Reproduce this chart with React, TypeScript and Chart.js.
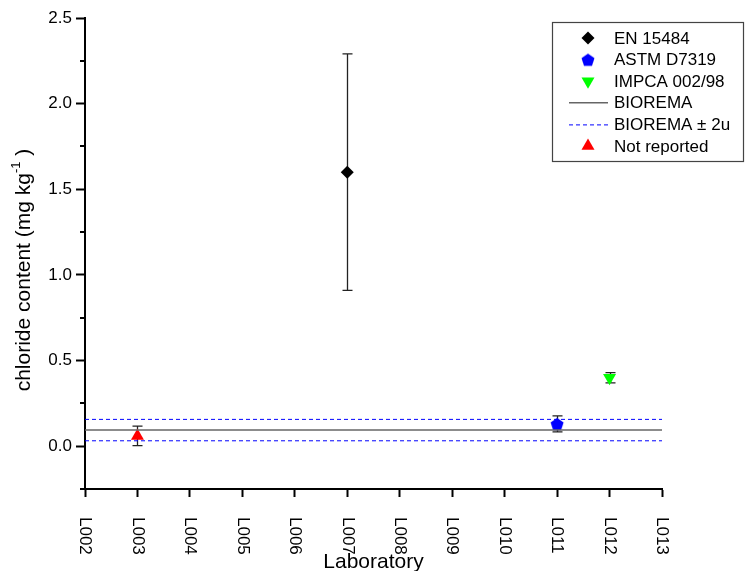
import React, { useEffect, useRef } from "react";
import { Chart, registerables } from "chart.js";

Chart.register(...registerables);

// ---- data ----
const labs = ["L002", "L003", "L004", "L005", "L006", "L007", "L008", "L009", "L010", "L011", "L012", "L013"];

const enLabs = ["L007"];
const enVals = [1.6];
const enErrs = [0.69];

const astmLabs = ["L011"];
const astmVals = [0.13];
const astmErrs = [0.047];

const impcaLabs = ["L012"];
const impcaVals = [0.4];
const impcaErrs = [0.03];

const nrLabs = ["L003"];
const nrVals = [0.06];
const nrErrs = [0.057];

const bioremaVal = 0.094;
const bioremaU2 = 0.0625;

const yMajor = [0, 0.5, 1.0, 1.5, 2.0, 2.5];
const yMinor = [-0.25, 0.25, 0.75, 1.25, 1.75, 2.25];

const FONT = "'Liberation Sans', Arial, sans-serif";

function makePentagon(color: string, r: number): HTMLCanvasElement {
  const size = Math.ceil(r * 2 + 2);
  const c = document.createElement("canvas");
  c.width = size;
  c.height = size;
  const ctx = c.getContext("2d")!;
  const cx = size / 2;
  const cy = size / 2 + r * 0.1;
  ctx.beginPath();
  for (let i = 0; i < 5; i++) {
    const a = -Math.PI / 2 + (i * 2 * Math.PI) / 5;
    const px = cx + Math.cos(a) * r;
    const py = cy + Math.sin(a) * r;
    if (i === 0) ctx.moveTo(px, py);
    else ctx.lineTo(px, py);
  }
  ctx.closePath();
  ctx.fillStyle = color;
  ctx.fill();
  return c;
}

function pts(l: string[], v: number[]) {
  return l.map((x, i) => ({ x, y: v[i] }));
}

export default function App() {
  const ref = useRef<HTMLCanvasElement | null>(null);

  useEffect(() => {
    document.body.style.margin = "0";
    const canvas = ref.current!;
    const pent = makePentagon("#0000ff", 6.8);

    const errSeries = [
      { l: enLabs, v: enVals, e: enErrs },
      { l: astmLabs, v: astmVals, e: astmErrs },
      { l: impcaLabs, v: impcaVals, e: impcaErrs },
      { l: nrLabs, v: nrVals, e: nrErrs },
    ];

    const errorBars = {
      id: "errorBars",
      beforeDatasetsDraw(chart: any) {
        const { ctx, scales } = chart;
        const xs = scales.x;
        const ys = scales.y;
        ctx.save();
        ctx.strokeStyle = "#222";
        ctx.lineWidth = 1.3;
        errSeries.forEach((s) => {
          s.l.forEach((lab, i) => {
            const px = Math.round(xs.getPixelForValue(labs.indexOf(lab))) + 0.5;
            const top = ys.getPixelForValue(s.v[i] + s.e[i]);
            const bot = ys.getPixelForValue(s.v[i] - s.e[i]);
            ctx.beginPath();
            ctx.moveTo(px, top);
            ctx.lineTo(px, bot);
            ctx.moveTo(px - 5, top);
            ctx.lineTo(px + 5, top);
            ctx.moveTo(px - 5, bot);
            ctx.lineTo(px + 5, bot);
            ctx.stroke();
          });
        });
        ctx.restore();
      },
    };

    const decor = {
      id: "decor",
      afterDraw(chart: any) {
        const { ctx, scales, chartArea } = chart;
        const xs = scales.x;
        const ys = scales.y;
        ctx.save();
        // minor y ticks
        ctx.strokeStyle = "#000";
        ctx.lineWidth = 2;
        yMinor.forEach((v) => {
          const py = Math.round(ys.getPixelForValue(v));
          ctx.beginPath();
          ctx.moveTo(chartArea.left - 5, py);
          ctx.lineTo(chartArea.left, py);
          ctx.stroke();
        });
        // rotated x tick labels (clockwise)
        ctx.fillStyle = "#000";
        ctx.font = `17px ${FONT}`;
        ctx.textAlign = "left";
        ctx.textBaseline = "middle";
        labs.forEach((lab, i) => {
          const px = xs.getPixelForValue(i);
          ctx.save();
          ctx.translate(px, chartArea.bottom + 28);
          ctx.rotate(Math.PI / 2);
          ctx.fillText(lab, 0, 0);
          ctx.restore();
        });
        // x title
        ctx.font = `21px ${FONT}`;
        ctx.textAlign = "center";
        ctx.textBaseline = "alphabetic";
        ctx.fillText("Laboratory", (chartArea.left + chartArea.right) / 2, 568);
        // y title with superscript
        ctx.save();
        ctx.translate(24, 270);
        ctx.rotate(-Math.PI / 2);
        ctx.textAlign = "left";
        ctx.textBaseline = "middle";
        const main = "chloride content (mg kg";
        const sup = "-1";
        const end = " )";
        ctx.font = `21px ${FONT}`;
        const w1 = ctx.measureText(main).width;
        const w3 = ctx.measureText(end).width;
        ctx.font = `13px ${FONT}`;
        const w2 = ctx.measureText(sup).width;
        const total = w1 + w2 + w3;
        let x0 = -total / 2;
        ctx.font = `21px ${FONT}`;
        ctx.fillText(main, x0, 0);
        x0 += w1;
        ctx.font = `13px ${FONT}`;
        ctx.fillText(sup, x0, -8);
        x0 += w2;
        ctx.font = `21px ${FONT}`;
        ctx.fillText(end, x0, 0);
        ctx.restore();

        // legend
        const lx = 552.5, ly = 22.5, lw = 191, lh = 139;
        ctx.fillStyle = "#fff";
        ctx.fillRect(lx, ly, lw, lh);
        ctx.strokeStyle = "#444";
        ctx.lineWidth = 1.2;
        ctx.strokeRect(lx, ly, lw, lh);
        const rows = [38, 59.6, 81.2, 102.8, 124.4, 146];
        const cx = 588;
        const names = ["EN 15484", "ASTM D7319", "IMPCA 002/98", "BIOREMA", "BIOREMA \u00b1 2u", "Not reported"];
        // diamond
        ctx.fillStyle = "#000";
        ctx.beginPath();
        ctx.moveTo(cx, rows[0] - 6.5);
        ctx.lineTo(cx + 6.5, rows[0]);
        ctx.lineTo(cx, rows[0] + 6.5);
        ctx.lineTo(cx - 6.5, rows[0]);
        ctx.closePath();
        ctx.fill();
        // pentagon
        ctx.drawImage(pent, cx - pent.width / 2, rows[1] - pent.height / 2);
        // down triangle
        const r = 7.5;
        ctx.fillStyle = "#00ff00";
        ctx.beginPath();
        ctx.moveTo(cx, rows[2] + r);
        ctx.lineTo(cx + r * 0.866, rows[2] - r / 2);
        ctx.lineTo(cx - r * 0.866, rows[2] - r / 2);
        ctx.closePath();
        ctx.fill();
        // solid line
        ctx.strokeStyle = "#666";
        ctx.lineWidth = 1.5;
        ctx.beginPath();
        ctx.moveTo(569, rows[3]);
        ctx.lineTo(608, rows[3]);
        ctx.stroke();
        // dashed
        ctx.strokeStyle = "#0000ff";
        ctx.lineWidth = 1;
        ctx.setLineDash([4, 3]);
        ctx.beginPath();
        ctx.moveTo(569, rows[4] + 0.5);
        ctx.lineTo(608, rows[4] + 0.5);
        ctx.stroke();
        ctx.setLineDash([]);
        // up triangle
        ctx.fillStyle = "#ff0000";
        ctx.beginPath();
        ctx.moveTo(cx, rows[5] - r);
        ctx.lineTo(cx + r * 0.866, rows[5] + r / 2);
        ctx.lineTo(cx - r * 0.866, rows[5] + r / 2);
        ctx.closePath();
        ctx.fill();
        // texts
        ctx.fillStyle = "#000";
        ctx.font = `17px ${FONT}`;
        ctx.textAlign = "left";
        ctx.textBaseline = "middle";
        names.forEach((n, i) => ctx.fillText(n, 614, rows[i] + 1));
        ctx.restore();
      },
    };

    const chart = new Chart(canvas, {
      type: "scatter",
      data: {
        labels: labs,
        datasets: [
          {
            type: "line",
            label: "BIOREMA",
            data: [{ x: labs[0], y: bioremaVal }, { x: labs[labs.length - 1], y: bioremaVal }],
            borderColor: "#666",
            borderWidth: 1.5,
            pointRadius: 0,
            showLine: true,
            fill: false,
          } as any,
          {
            type: "line",
            label: "BIOREMA + 2u",
            data: [{ x: labs[0], y: bioremaVal + bioremaU2 }, { x: labs[labs.length - 1], y: bioremaVal + bioremaU2 }],
            borderColor: "#0000ff",
            borderWidth: 1,
            borderDash: [4, 3],
            pointRadius: 0,
            showLine: true,
            fill: false,
          } as any,
          {
            type: "line",
            label: "BIOREMA - 2u",
            data: [{ x: labs[0], y: bioremaVal - bioremaU2 }, { x: labs[labs.length - 1], y: bioremaVal - bioremaU2 }],
            borderColor: "#0000ff",
            borderWidth: 1,
            borderDash: [4, 3],
            pointRadius: 0,
            showLine: true,
            fill: false,
          } as any,
          {
            label: "EN 15484",
            data: pts(enLabs, enVals),
            pointStyle: "rectRot",
            pointRadius: 6.5,
            backgroundColor: "#000",
            borderWidth: 0,
          },
          {
            label: "ASTM D7319",
            data: pts(astmLabs, astmVals),
            pointStyle: pent as any,
            backgroundColor: "#0000ff",
            borderWidth: 0,
          },
          {
            label: "IMPCA 002/98",
            data: pts(impcaLabs, impcaVals),
            pointStyle: "triangle",
            pointRotation: 180,
            pointRadius: 7.5,
            backgroundColor: "#00ff00",
            borderWidth: 0,
          },
          {
            label: "Not reported",
            data: pts(nrLabs, nrVals),
            pointStyle: "triangle",
            pointRadius: 7.5,
            backgroundColor: "#ff0000",
            borderWidth: 0,
          },
        ] as any,
      },
      plugins: [errorBars, decor],
      options: {
        animation: false,
        responsive: false,
        events: [],
        layout: { padding: { top: 18, right: 83, left: 0, bottom: 0 } },
        plugins: {
          legend: { display: false },
          tooltip: { enabled: false },
        },
        scales: {
          x: {
            type: "category",
            labels: labs,
            offset: false,
            grid: {
              drawOnChartArea: false,
              drawTicks: true,
              tickLength: 8,
              tickWidth: 2,
              tickColor: "#000",
              offset: false,
            },
            border: { display: true, color: "#000", width: 2 },
            ticks: { display: false, autoSkip: false },
            afterFit(scale: any) {
              scale.height = 82;
            },
          },
          y: {
            type: "linear",
            min: -0.25,
            max: 2.5,
            afterBuildTicks(scale: any) {
              scale.ticks = yMajor.map((v) => ({ value: v }));
            },
            grid: {
              drawOnChartArea: false,
              drawTicks: true,
              tickLength: 9,
              tickWidth: 2,
              tickColor: "#000",
            },
            border: { display: true, color: "#000", width: 2 },
            ticks: {
              color: "#000",
              padding: 4,
              font: { family: FONT, size: 17 },
              callback: (v: any) => Number(v).toFixed(1),
            },
            afterFit(scale: any) {
              scale.width = 85;
            },
          },
        },
      } as any,
    });
    return () => chart.destroy();
  }, []);

  return (
    <div style={{ width: 745, height: 571 }}>
      <canvas ref={ref} width={745} height={571} style={{ display: "block", width: 745, height: 571 }} />
    </div>
  );
}
